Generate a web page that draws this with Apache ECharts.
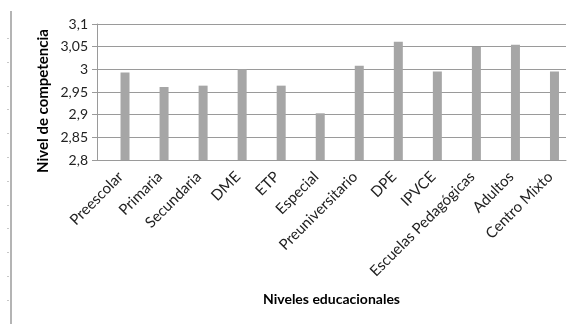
<!DOCTYPE html>
<html>
<head>
<meta charset="utf-8">
<script src="https://cdn.jsdelivr.net/npm/echarts@6/dist/echarts.min.js"></script>
<style>
  html, body { margin: 0; padding: 0; background: #fff; }
  #chart { width: 574px; height: 324px; }
</style>
</head>
<body>
<div id="chart"></div>
<script>
// Nivel de competencia por nivel educacional
const categories = ['Preescolar', 'Primaria', 'Secundaria', 'DME', 'ETP', 'Especial',
  'Preuniversitario', 'DPE', 'IPVCE', 'Escuelas Pedagógicas', 'Adultos', 'Centro Mixto'];
const competencia = [2.993, 2.961, 2.964, 3.0, 2.964, 2.903, 3.008, 3.061, 2.995, 3.049, 3.054, 2.995];
const yMin = 2.8, yMax = 3.1, yStep = 0.05;

const FONT = 'Lato';
const TOP = 24, BOTTOM = 164;

function fmt(v) {
  return String(Math.round(v * 100) / 100).replace('.', ',');
}

// page-edge ruler on the left, plus the rotated value-axis title
const decor = [{
  type: 'rect', shape: { x: 10, y: 11, width: 2, height: 313 },
  style: { fill: '#b4b4b4' }, silent: true
}];
for (let y = 38; y < 324; y += 23.8) {
  decor.push({
    type: 'rect', shape: { x: 7, y: Math.round(y), width: 2, height: 1 },
    style: { fill: '#c8c8c8' }, silent: true
  });
}
decor.push({
  type: 'text', x: 43, y: 101, rotation: Math.PI / 2,
  style: {
    text: 'Nivel de competencia', fontFamily: FONT, fontWeight: 'bold', fontSize: 15,
    fill: '#000', textAlign: 'center', textVerticalAlign: 'middle'
  }
});

const chart = echarts.init(document.getElementById('chart'));
chart.setOption({
  animation: false,
  backgroundColor: '#fff',
  textStyle: { fontFamily: FONT },
  graphic: decor,
  grid: [
    // frame with value gridlines
    { left: 97, right: 8, top: TOP, bottom: BOTTOM, containLabel: false },
    // bars and category labels
    { left: 105.5, right: 0, top: TOP, bottom: BOTTOM, containLabel: false }
  ],
  xAxis: [
    {
      gridIndex: 0, type: 'category', data: categories,
      axisLine: { show: true, lineStyle: { color: '#9a9a9a', width: 1 } },
      axisTick: { show: false }, axisLabel: { show: false }, splitLine: { show: false },
      name: 'Niveles educacionales', nameLocation: 'middle', nameGap: 132,
      nameTextStyle: { fontFamily: FONT, fontWeight: 'bold', fontSize: 14, color: '#000' }
    },
    {
      gridIndex: 1, type: 'category', data: categories,
      axisLine: { show: false }, axisTick: { show: false },
      axisLabel: {
        interval: 0, rotate: 45, margin: 10, padding: [0, 6, 0, 0],
        fontSize: 15, color: '#222', fontFamily: FONT
      }
    }
  ],
  yAxis: [
    {
      gridIndex: 0, type: 'value', min: yMin, max: yMax, interval: yStep,
      axisLine: { show: true, lineStyle: { color: '#9a9a9a', width: 1 } },
      axisTick: { show: true, length: 5, lineStyle: { color: '#9a9a9a' } },
      splitLine: { show: true, lineStyle: { color: '#9a9a9a', width: 1 } },
      axisLabel: { formatter: fmt, fontSize: 14, color: '#222', margin: 9, fontFamily: FONT }
    },
    {
      gridIndex: 1, type: 'value', min: yMin, max: yMax, interval: yStep, show: false
    }
  ],
  series: [{
    type: 'bar', xAxisIndex: 1, yAxisIndex: 1,
    data: competencia, barWidth: 9,
    itemStyle: { color: '#a6a6a6' }
  }]
});
</script>
</body>
</html>
